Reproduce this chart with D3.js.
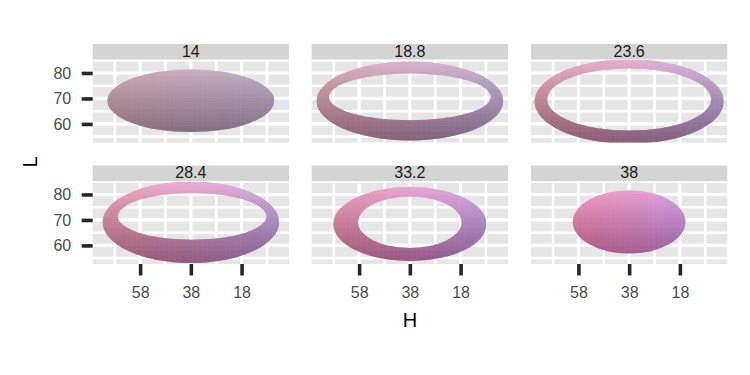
<!DOCTYPE html>
<html>
<head>
<meta charset="utf-8">
<script src="https://cdn.jsdelivr.net/npm/d3@7"></script>
<style>
  body { margin: 0; background: #fff; }
  text { font-family: "Liberation Sans", Arial, sans-serif; }
</style>
</head>
<body>
<script>
// facettes = chroma, chaque facette montre un anneau (ellipse ext. moins ellipse int.) dans le plan H x L
var chroma = [14, 18.8, 23.6, 28.4, 33.2, 38];
var outerH = [38, 38, 38, 38, 38, 38];
var outerL = [69.1, 69.0, 68.8, 69.1, 68.4, 69.2];
var outerRH = [32.9, 36.8, 37.3, 34.8, 30.2, 22.2];
var outerRL = [12.3, 15.5, 16.6, 16.0, 14.6, 12.4];
var innerH = [38, 38, 38, 37.5, 38, 38];
var innerL = [69, 70.6, 69.6, 71.4, 69.1, 69];
var innerRH = [0, 31.9, 32.3, 29.3, 20.4, 0];
var innerRL = [0, 9.2, 12.2, 9.2, 10.1, 0];

var hTicks = [58, 38, 18];
var hMinor = [68, 48, 28, 8];
var lTicks = [60, 70, 80];
var lMinor = [55, 65, 75, 85];

var svg = d3.select("body").append("svg")
    .attr("width", 750)
    .attr("height", 375);

var colX = [92.7, 311.7, 531],
    rowY = [60, 181.5],
    pw = 196.3,
    ph = 82.5,
    stripH = 15.5;

var x = d3.scaleLinear().domain([76.7, -0.7]).range([0, pw]);
var y = d3.scaleLinear().domain([52.7, 85.1]).range([ph, 0]);

// couleur du point = hcl(H, C, L), recalee pour coller au rendu
function pointColour(h, c, l) {
    return d3.hcl(336 + (h - 38) * 0.75, c, l - 8).formatHex();
}

function ellipse(cx, cy, rx, ry) {
    return "M" + (cx - rx) + "," + cy +
        "A" + rx + "," + ry + " 0 1,0 " + (cx + rx) + "," + cy +
        "A" + rx + "," + ry + " 0 1,0 " + (cx - rx) + "," + cy + "Z";
}

var defs = svg.append("defs");

chroma.forEach(function (c, i) {
    var col = i % 3, row = Math.floor(i / 3);
    var g = svg.append("g")
        .attr("transform", "translate(" + colX[col] + "," + rowY[row] + ")");

    // fond + grille
    g.append("rect").attr("width", pw).attr("height", ph).attr("fill", "#E6E6E6");
    g.selectAll(".hminor").data(hMinor).enter().append("line")
        .attr("x1", function (d) { return x(d); }).attr("x2", function (d) { return x(d); })
        .attr("y1", 0).attr("y2", ph)
        .attr("stroke", "#fff").attr("stroke-width", 2.6);
    g.selectAll(".lminor").data(lMinor).enter().append("line")
        .attr("y1", function (d) { return y(d); }).attr("y2", function (d) { return y(d); })
        .attr("x1", 0).attr("x2", pw)
        .attr("stroke", "#fff").attr("stroke-width", 2.6);
    g.selectAll(".hmajor").data(hTicks).enter().append("line")
        .attr("x1", function (d) { return x(d); }).attr("x2", function (d) { return x(d); })
        .attr("y1", 0).attr("y2", ph)
        .attr("stroke", "#fff").attr("stroke-width", 3.2);
    g.selectAll(".lmajor").data(lTicks).enter().append("line")
        .attr("y1", function (d) { return y(d); }).attr("y2", function (d) { return y(d); })
        .attr("x1", 0).attr("x2", pw)
        .attr("stroke", "#fff").attr("stroke-width", 3.2);

    // clips : panneau puis anneau
    defs.append("clipPath").attr("id", "panel" + i)
        .append("rect").attr("width", pw).attr("height", ph);
    var cx = x(outerH[i]), cy = y(outerL[i]);
    var d = ellipse(cx, cy, Math.abs(x(outerH[i] + outerRH[i]) - cx), Math.abs(y(outerL[i] + outerRL[i]) - cy));
    if (innerRH[i] > 0) {
        var icx = x(innerH[i]), icy = y(innerL[i]);
        d += ellipse(icx, icy, Math.abs(x(innerH[i] + innerRH[i]) - icx), Math.abs(y(innerL[i] + innerRL[i]) - icy));
    }
    defs.append("clipPath").attr("id", "ring" + i)
        .append("path").attr("d", d).attr("clip-rule", "evenodd");

    var cells = [];
    d3.range(Math.floor(outerH[i] - outerRH[i]) - 1, Math.ceil(outerH[i] + outerRH[i]) + 2).forEach(function (h) {
        d3.range(Math.floor(outerL[i] - outerRL[i]) - 1, Math.ceil(outerL[i] + outerRL[i]) + 2).forEach(function (l) {
            cells.push({ h: h, l: l });
        });
    });

    g.append("g").attr("clip-path", "url(#panel" + i + ")")
        .append("g").attr("clip-path", "url(#ring" + i + ")")
        .selectAll("rect").data(cells).enter().append("rect")
        .attr("x", function (e) { return x(e.h + 0.5); })
        .attr("width", x(0) - x(1) + 0.5)
        .attr("y", function (e) { return y(e.l + 0.5); })
        .attr("height", y(0) - y(1) + 0.5)
        .attr("fill", function (e) { return pointColour(e.h, c, e.l); });

    // bandeau
    g.append("rect").attr("y", -stripH - 0.5).attr("width", pw).attr("height", stripH)
        .attr("fill", "#D4D4D4");
    g.append("text").attr("x", pw / 2).attr("y", -3.3)
        .attr("text-anchor", "middle")
        .attr("font-size", 16)
        .attr("fill", "#1A1A1A")
        .text(d3.format("")(c));

    // axes
    if (col === 0) {
        var ay = g.append("g").call(d3.axisLeft(y).tickValues(lTicks).tickSize(11).tickPadding(10.5));
        ay.select(".domain").remove();
        ay.selectAll("line").attr("stroke", "#262626").attr("stroke-width", 3.6);
        ay.selectAll("text").attr("font-size", 16).attr("fill", "#4D4D4D")
            .attr("font-family", "Liberation Sans, Arial, sans-serif");
    }
    if (row === 1) {
        var ax = g.append("g").attr("transform", "translate(0," + ph + ")")
            .call(d3.axisBottom(x).tickValues(hTicks).tickSize(11.5).tickPadding(11));
        ax.select(".domain").remove();
        ax.selectAll("line").attr("stroke", "#262626").attr("stroke-width", 3.6);
        ax.selectAll("text").attr("font-size", 16).attr("fill", "#4D4D4D")
            .attr("font-family", "Liberation Sans, Arial, sans-serif");
    }
});

// titres des axes
svg.append("text")
    .attr("x", (colX[0] + colX[2] + pw) / 2).attr("y", 326.5)
    .attr("text-anchor", "middle")
    .attr("font-size", 20)
    .text("H");

svg.append("text")
    .attr("transform", "translate(37.3," + (rowY[0] + rowY[1] + ph) / 2 + ") rotate(-90)")
    .attr("text-anchor", "middle")
    .attr("font-size", 20)
    .text("L");
</script>
</body>
</html>
